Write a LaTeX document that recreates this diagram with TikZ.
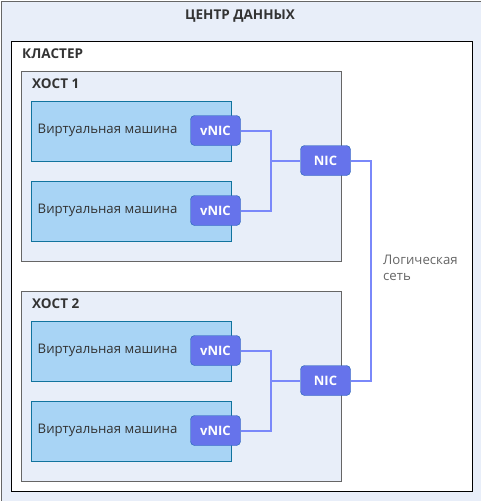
\documentclass[tikz,border=0pt]{standalone}
\usepackage{fontspec}
\setmainfont{Open Sans}
\usetikzlibrary{positioning}
\definecolor{dcfill}{RGB}{232,238,249}
\definecolor{zoneline}{RGB}{102,102,102}
\definecolor{vmfill}{RGB}{168,212,245}
\definecolor{vmline}{RGB}{16,115,158}
\definecolor{nicfill}{RGB}{102,115,235}
\definecolor{nicline}{RGB}{30,100,180}
\definecolor{linkcol}{RGB}{122,136,250}
\definecolor{txt}{RGB}{51,51,51}
\tikzset{
  zone/.style={draw=zoneline, fill=dcfill, anchor=north west, inner sep=0pt},
  vmbox/.style={draw=vmline, fill=vmfill, anchor=north west, minimum width=200pt, minimum height=60pt, inner sep=0pt},
  vmtext/.style={text=txt, font=\fontsize{13.2}{16}\selectfont, inner sep=0pt},
  nicbox/.style={draw=nicline, fill=nicfill, rounded corners=4pt, text=white, font=\bfseries\fontsize{13}{15}\selectfont, minimum width=50pt, minimum height=30pt, inner sep=0pt},
  heading/.style={text=txt, font=\bfseries\fontsize{13.5}{16}\selectfont, inner sep=0pt},
  link/.style={draw=linkcol, line width=2pt}
}
\begin{document}
\begin{tikzpicture}[x=1pt,y=-1pt]
\useasboundingbox (0,0) rectangle (481,501);
% центр данных
\node[zone, minimum width=480pt, minimum height=500pt] (dc) at (0.5,0.5) {};
\node[heading] (dctitle) at (240,16) {ЦЕНТР ДАННЫХ};
% кластер
\node[draw=black, fill=white, anchor=north west, inner sep=0pt, minimum width=461pt, minimum height=450pt] (cluster) at (10.5,40.5) {};
\node[heading, anchor=west] (cltitle) at (22,54) {КЛАСТЕР};
% хост 1
\node[zone, minimum width=320pt, minimum height=190pt] (host1) at (20.5,70.5) {};
\node[heading, anchor=west] (h1title) at (32,84) {ХОСТ 1};
\node[vmbox] (vm1) at (30.5,100.5) {};
\node[vmbox] (vm2) at (30.5,180.5) {};
\node[vmtext, right=7pt of vm1.west] (vm1t) {Виртуальная машина};
\node[vmtext, right=7pt of vm2.west] (vm2t) {Виртуальная машина};
\node[nicbox] (vnic1) at (215.5,130.5) {vNIC};
\node[nicbox] (vnic2) at (215.5,210.5) {vNIC};
\node[nicbox] (nic1) at (325.5,160.5) {NIC};
% хост 2
\node[zone, minimum width=320pt, minimum height=190pt] (host2) at (20.5,290.5) {};
\node[heading, anchor=west] (h2title) at (32,304) {ХОСТ 2};
\node[vmbox] (vm3) at (30.5,320.5) {};
\node[vmbox] (vm4) at (30.5,400.5) {};
\node[vmtext, right=7pt of vm3.west] (vm3t) {Виртуальная машина};
\node[vmtext, right=7pt of vm4.west] (vm4t) {Виртуальная машина};
\node[nicbox] (vnic3) at (215.5,350.5) {vNIC};
\node[nicbox] (vnic4) at (215.5,430.5) {vNIC};
\node[nicbox] (nic2) at (325.5,380.5) {NIC};
% связи
\coordinate (j1) at (270.5,160.5);
\coordinate (j2) at (270.5,380.5);
\coordinate (r1) at (370.5,160.5);
\coordinate (r2) at (370.5,380.5);
\draw[link] (vnic1.east) -| (j1) -- (nic1.west);
\draw[link] (vnic2.east) -| (j1);
\draw[link] (vnic3.east) -| (j2) -- (nic2.west);
\draw[link] (vnic4.east) -| (j2);
\draw[link] (nic1.east) -- (r1) -- (r2) -- (nic2.east);
\node[vmtext, anchor=north west, align=left, text=zoneline] (lnet) at (383,255) {Логическая\\сеть};
\end{tikzpicture}
\end{document}
